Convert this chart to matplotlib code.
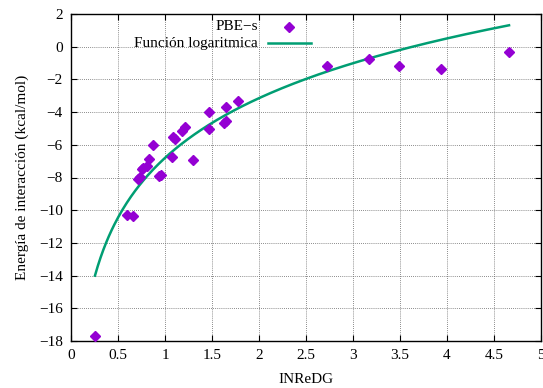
import numpy as np
import matplotlib
matplotlib.use("Agg")
import matplotlib.pyplot as plt
from matplotlib.lines import Line2D

# Data
inredg = [0.255, 0.60, 0.66, 0.716, 0.734, 0.752, 0.77, 0.81, 0.826, 0.876,
          0.933, 0.96, 1.074, 1.089, 1.11, 1.18, 1.21, 1.30, 1.47, 1.47,
          1.63, 1.65, 1.65, 1.78, 2.72, 3.17, 3.49, 3.94, 4.66]
energy = [-17.7, -10.31, -10.37, -8.09, -7.99, -7.48, -7.40, -7.28, -6.89, -6.0,
          -7.91, -7.83, -6.73, -5.50, -5.63, -5.13, -4.93, -6.95, -3.97, -5.01,
          -4.65, -4.52, -3.67, -3.30, -1.18, -0.75, -1.20, -1.36, -0.34]

# Logarithmic fit y = a + b*ln(x), coefficients
fit_a = -6.80
fit_b = 5.27
fit_range = [0.255, 4.66]

xticks = [0, 0.5, 1, 1.5, 2, 2.5, 3, 3.5, 4, 4.5, 5]
yticks = [2, 0, -2, -4, -6, -8, -10, -12, -14, -16, -18]
series_labels = ['PBE−s', 'Función logaritmica']

FS = 11
plt.rcParams['font.family'] = ['Liberation Serif', 'DejaVu Serif']
plt.rcParams['font.size'] = FS

W, H = 543, 388
fig = plt.figure(figsize=(W / 100, H / 100), dpi=100)
ax = fig.add_axes([71 / W, 1 - 341 / H, 470 / W, 327 / H])

marker_color = '#9400D3'
line_color = '#009E73'

xs = np.linspace(fit_range[0], fit_range[1], 300)
ax.plot(inredg, energy, linestyle='none', marker='D', markersize=5.5,
        color=marker_color, zorder=3)
ax.plot(xs, fit_a + fit_b * np.log(xs), color=line_color, linewidth=1.8,
        zorder=2)

ax.set_xlim(0, 5)
ax.set_ylim(-18, 2)
ax.set_xticks(xticks)
ax.set_xticklabels([f"{t:g}" for t in xticks])
ax.set_yticks(yticks)
ax.set_yticklabels([f"{t:g}".replace('-', '\u2212') for t in yticks])
ax.grid(True, color='#666666', linestyle=(0, (1, 1.5)), linewidth=0.6)
ax.tick_params(direction='in', top=True, right=True, length=4, width=0.8,
               labelsize=FS, pad=6)
for s in ax.spines.values():
    s.set_linewidth(1.0)
    s.set_color('black')

ax.set_xlabel('INReDG', fontsize=FS, labelpad=8)
ax.set_ylabel('Energía de interacción (kcal/mol)', fontsize=FS, labelpad=7)

# Manual gnuplot-style key (text right-aligned, sample on the right)
def fx(px):
    return px / W

def fy(py):
    return 1 - py / H

fig.text(fx(258), fy(27), series_labels[0], ha='right', va='center', fontsize=FS)
fig.add_artist(Line2D([fx(289)], [fy(27)], marker='D', markersize=5.5,
                      color=marker_color, linestyle='none', transform=fig.transFigure))
fig.text(fx(258), fy(43), series_labels[1], ha='right', va='center', fontsize=FS)
fig.add_artist(Line2D([fx(268), fx(311)], [fy(43), fy(43)], color=line_color,
                      linewidth=1.8, transform=fig.transFigure))

fig.savefig('out.png', dpi=100)
